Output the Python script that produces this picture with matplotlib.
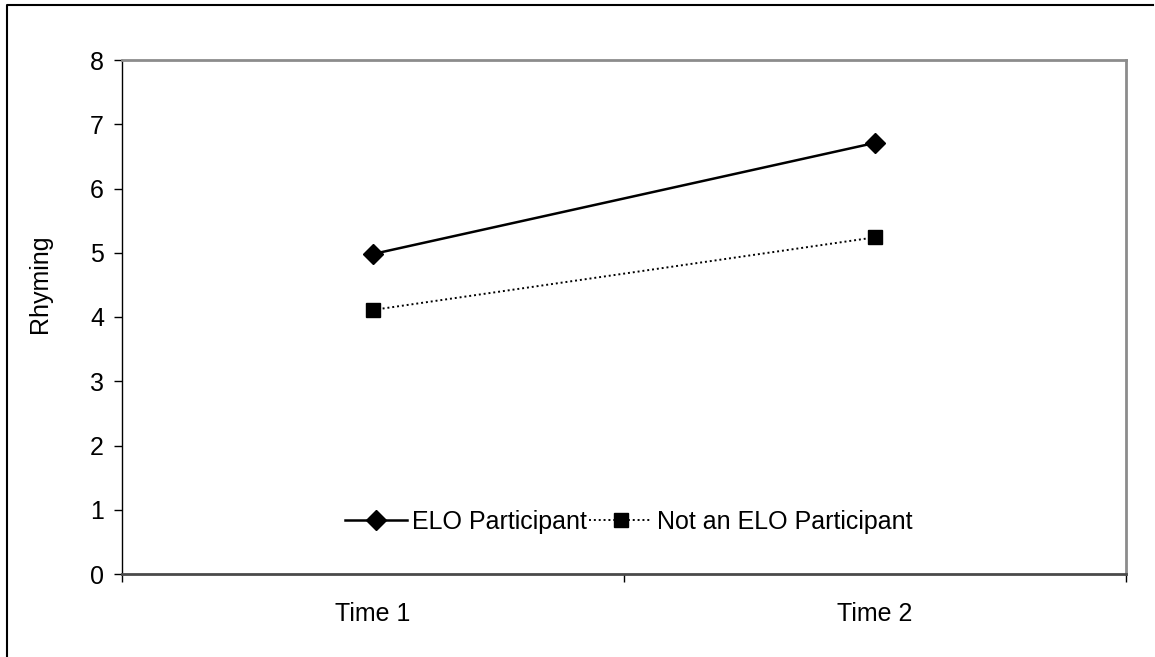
import matplotlib
matplotlib.use("Agg")
import matplotlib.pyplot as plt
from matplotlib.lines import Line2D

plt.rcParams['font.family'] = ['Liberation Sans', 'DejaVu Sans']

categories = ["Time 1", "Time 2"]
elo = [4.98, 6.71]
not_elo = [4.11, 5.24]
y_ticks = [0, 1, 2, 3, 4, 5, 6, 7, 8]

FS = 18
W, H = 1155, 657
fig = plt.figure(figsize=(W / 100, H / 100), dpi=100)

# plot area in pixel coordinates
left, right, top, bottom = 122, 1126, 60, 574
ax = fig.add_axes([left / W, 1 - bottom / H, (right - left) / W, (bottom - top) / H])

x = list(range(1, len(categories) + 1))
ax.plot(x, elo, color="black", lw=1.8, marker="D", markersize=10,
        label="ELO Participant")
ax.plot(x, not_elo, color="black", lw=1.4, linestyle=(0, (1, 1.5)), marker="s",
        markersize=10.3, label="Not an ELO Participant")

ax.set_xlim(0.5, len(categories) + 0.5)
ax.set_ylim(0, 8)
ax.set_yticks(y_ticks)
ax.set_xticks(x)
ax.set_xticklabels(categories)
ax.set_xticks([0.5, 1.5, 2.5], minor=True)
ax.tick_params(axis="x", which="major", length=0, pad=20, labelsize=FS)
ax.tick_params(axis="x", which="minor", length=6, width=1, direction="out")
ax.tick_params(axis="y", length=6, width=1, direction="out", pad=7, labelsize=FS)
ax.set_ylabel("Rhyming", fontsize=FS)
ax.yaxis.set_label_coords(-0.07, 0.565)

for side in ("top", "right"):
    ax.spines[side].set_color("#8c8c8c")
    ax.spines[side].set_linewidth(2)
ax.spines["bottom"].set_color("#4a4a4a")
ax.spines["bottom"].set_linewidth(2)
ax.spines["left"].set_color("black")
ax.spines["left"].set_linewidth(1)

ax.legend(loc="center", bbox_to_anchor=(0.5045, 0.101), ncol=2, frameon=False,
          fontsize=FS, handlelength=2.5, handletextpad=0.2, columnspacing=0.1)

# outer chart border (left and top edges)
fig.add_artist(Line2D([7 / W, 7 / W, 1153 / W], [0, 1 - 5 / H, 1 - 5 / H],
                      transform=fig.transFigure, color="black", lw=1.5))

fig.savefig("out.png", dpi=100)
